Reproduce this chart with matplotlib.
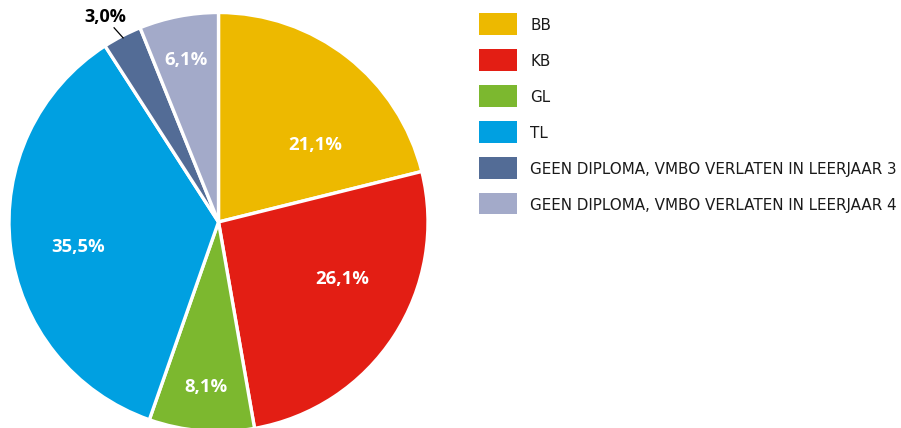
import matplotlib
matplotlib.use("Agg")
import matplotlib.pyplot as plt
import numpy as np
from matplotlib.patches import Rectangle

categories = ["BB", "KB", "GL", "TL",
              "GEEN DIPLOMA, VMBO VERLATEN IN LEERJAAR 3",
              "GEEN DIPLOMA, VMBO VERLATEN IN LEERJAAR 4"]
values = [21.1, 26.1, 8.1, 35.5, 3.0, 6.1]
value_labels = ["21,1%", "26,1%", "8,1%", "35,5%", "3,0%", "6,1%"]
colors = ["#EDB900", "#E31E14", "#7CB82F", "#00A0E1", "#536C96", "#A3AAC9"]

# layout: label placement (angle in degrees, radius fraction) per slice
label_layout = [(38.4, 0.59), (-24.7, 0.65), (-94.5, 0.79), (-170.0, 0.68), None, (101.4, 0.79)]

W, H = 901, 428
fig = plt.figure(figsize=(W / 100, H / 100), dpi=100)
cx, cy, R = 218.5, 222, 209.5
ax = fig.add_axes([(cx - R) / W, (H - cy - R) / H, 2 * R / W, 2 * R / H])
ax.axis("off")

wedges, _ = ax.pie(values, colors=colors, startangle=90, counterclock=False,
                   radius=1.0, wedgeprops=dict(edgecolor="white", linewidth=2.4))
ax.set_xlim(-1, 1)
ax.set_ylim(-1, 1)
ax.set_aspect("equal")

font = "Open Sans"
for i, lab in enumerate(value_labels):
    lay = label_layout[i]
    if lay is None:
        # outside label with leader line
        w = wedges[i]
        mid = np.deg2rad((w.theta1 + w.theta2) / 2)
        x0, y0 = 0.99 * np.cos(mid), 0.99 * np.sin(mid)
        x1, y1 = x0 - 0.043, y0 + 0.048
        ax.plot([x0, x1], [y0, y1], color="black", lw=0.9, clip_on=False)
        ax.text(x0 - 0.085, y0 + 0.10, lab, ha="center", va="center",
                fontsize=13, fontweight="bold", color="black", family=font, clip_on=False)
        continue
    a, r = lay
    x, y = r * np.cos(np.deg2rad(a)), r * np.sin(np.deg2rad(a))
    ax.text(x, y, lab, ha="center", va="center", fontsize=13.3,
            fontweight="bold", color="white", family=font)

# legend
lx, ly0, step = 479, 13, 35.9
bw, bh = 38, 22
for i, (cat, col) in enumerate(zip(categories, colors)):
    y = ly0 + i * step
    fig.patches.append(Rectangle((lx / W, 1 - (y + bh) / H), bw / W, bh / H,
                                 transform=fig.transFigure, facecolor=col,
                                 edgecolor="none"))
    fig.text(530 / W, 1 - (y + bh / 2 + 2) / H, cat, ha="left", va="center",
             fontsize=10.9, color="#1a1a1a", family="DejaVu Sans")

fig.savefig("out.png", dpi=100)
